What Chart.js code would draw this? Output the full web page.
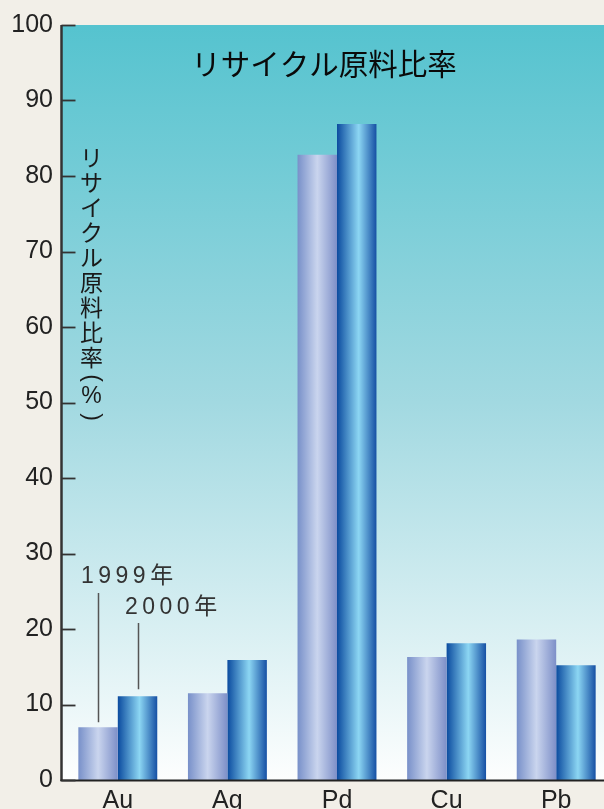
<!DOCTYPE html>
<html>
<head>
<meta charset="utf-8">
<script src="https://cdn.jsdelivr.net/npm/chart.js@4.4.0/dist/chart.umd.min.js"></script>
<style>
html,body{margin:0;padding:0;background:#f2efe8;overflow:hidden;}
#wrap{width:604px;height:809px;overflow:hidden;}
canvas{display:block;}
</style>
</head>
<body>
<div id="wrap"><canvas id="c" width="611" height="809"></canvas></div>
<script>
const categories = ['Au', 'Ag', 'Pd', 'Cu', 'Pb'];
const seriesNames = ['1999年', '2000年'];
const values1999 = [7.0, 11.5, 82.8, 16.3, 18.6];
const values2000 = [11.1, 15.9, 86.9, 18.1, 15.2];
const yTicks = [0, 10, 20, 30, 40, 50, 60, 70, 80, 90, 100];
const chartTitle = 'リサイクル原料比率';
const yTitleChars = ['リ','サ','イ','ク','ル','原','料','比','率'];
const yTitleUnit = ['(', '%', ')'];

const CAT_PCT = 0.72;

function barGradient(chart, dsIndex, dataIndex, stops) {
  const xs = chart.scales.x;
  if (!xs || !chart.chartArea) return stops[1][1];
  const catW = xs.width / categories.length;
  const center = xs.getPixelForValue(dataIndex);
  const bw = catW * CAT_PCT / 2;
  const left = dsIndex === 0 ? center - bw : center;
  const g = chart.ctx.createLinearGradient(left, 0, left + bw, 0);
  stops.forEach(s => g.addColorStop(s[0], s[1]));
  return g;
}
const stops1999 = [[0,'#7890c9'],[0.5,'#cad5ee'],[1,'#7d8fc8']];
const stops2000 = [[0,'#0b4b9f'],[0.55,'#8cd6f3'],[1,'#1650a4']];

const decor = {
  id: 'decor',
  beforeDraw(chart) {
    const {ctx, chartArea: a} = chart;
    ctx.save();
    ctx.fillStyle = '#f2efe8';
    ctx.fillRect(0, 0, chart.width, chart.height);
    const g = ctx.createLinearGradient(0, a.top, 0, a.bottom);
    g.addColorStop(0, '#55c3cf');
    g.addColorStop(0.5, '#a2d9e1');
    g.addColorStop(1, '#fdfefe');
    ctx.fillStyle = g;
    ctx.fillRect(a.left - 1, a.top, a.right - a.left + 1, a.bottom - a.top);
    ctx.restore();
  },
  afterDatasetsDraw(chart) {
    const {ctx, chartArea: a, scales: {y}} = chart;
    ctx.save();
    const ax = a.left - 1.5;
    ctx.strokeStyle = '#333';
    ctx.lineWidth = 2.5;
    ctx.beginPath();
    ctx.moveTo(ax, a.top);
    ctx.lineTo(ax, a.bottom + 1);
    ctx.stroke();
    ctx.strokeStyle = '#222';
    ctx.lineWidth = 2;
    ctx.beginPath();
    ctx.moveTo(ax - 1, a.bottom + 0.5);
    ctx.lineTo(chart.width, a.bottom + 0.5);
    ctx.stroke();
    ctx.strokeStyle = '#333';
    ctx.lineWidth = 1.8;
    yTicks.forEach(v => {
      const py = Math.round(y.getPixelForValue(v)) + 0.5;
      ctx.beginPath();
      ctx.moveTo(ax, py);
      ctx.lineTo(ax + 14, py);
      ctx.stroke();
    });
    // title
    ctx.fillStyle = '#0a0a0a';
    ctx.font = "29.5px 'Noto Sans CJK JP'";
    ctx.textAlign = 'center';
    ctx.textBaseline = 'middle';
    ctx.fillText(chartTitle, 324, 64);
    // vertical y title
    ctx.fillStyle = '#1a1a1a';
    ctx.font = "23px 'Noto Sans CJK JP'";
    yTitleChars.forEach((ch, i) => {
      ctx.fillText(ch, 91.5, 157 + i * 25);
    });
    ctx.font = "23px 'Liberation Sans'";
    [[yTitleUnit[0], 378, true], [yTitleUnit[1], 397, false], [yTitleUnit[2], 417, true]].forEach(([ch, cy, rot]) => {
      ctx.save();
      ctx.translate(91.5, cy);
      if (rot) ctx.rotate(Math.PI / 2);
      ctx.fillText(ch, 0, 0);
      ctx.restore();
    });
    // series annotations
    ctx.fillStyle = '#333';
    ctx.font = "23px 'Liberation Sans', 'Noto Sans CJK JP'";
    ctx.textAlign = 'left';
    ctx.letterSpacing = '4.5px';
    ctx.fillText(seriesNames[0], 81, 577);
    ctx.fillText(seriesNames[1], 125, 608);
    ctx.letterSpacing = '0px';
    const b0 = chart.getDatasetMeta(0).data[0];
    const b1 = chart.getDatasetMeta(1).data[0];
    ctx.strokeStyle = '#555';
    ctx.lineWidth = 1.5;
    ctx.beginPath();
    ctx.moveTo(Math.round(b0.x) + 0.5, 593);
    ctx.lineTo(Math.round(b0.x) + 0.5, b0.y - 5);
    ctx.moveTo(Math.round(b1.x) + 0.5, 623);
    ctx.lineTo(Math.round(b1.x) + 0.5, b1.y - 7);
    ctx.stroke();
    ctx.restore();
  }
};

new Chart(document.getElementById('c'), {
  type: 'bar',
  data: {
    labels: categories,
    datasets: [
      {
        label: seriesNames[0],
        data: values1999,
        backgroundColor: (c) => barGradient(c.chart, 0, c.dataIndex, stops1999),
        borderWidth: 0,
        categoryPercentage: CAT_PCT,
        barPercentage: 1.0
      },
      {
        label: seriesNames[1],
        data: values2000,
        backgroundColor: (c) => barGradient(c.chart, 1, c.dataIndex, stops2000),
        borderWidth: 0,
        categoryPercentage: CAT_PCT,
        barPercentage: 1.0
      }
    ]
  },
  options: {
    responsive: false,
    animation: false,
    devicePixelRatio: 1,
    layout: { padding: { top: 23, left: 0, right: 0, bottom: 0 } },
    plugins: { legend: { display: false }, title: { display: false }, tooltip: { enabled: false } },
    scales: {
      x: {
        grid: { display: false, drawTicks: false },
        border: { display: false },
        ticks: { color: '#222', font: { family: "'Liberation Sans'", size: 25 }, padding: 6 },
        afterFit(s) { s.height = 29; }
      },
      y: {
        min: 0, max: 100,
        afterBuildTicks(s) { s.ticks = yTicks.map(v => ({ value: v })); },
        grid: { display: false, drawTicks: false },
        border: { display: false },
        ticks: { color: '#222', font: { family: "'Liberation Sans'", size: 25 }, padding: 10 },
        afterFit(s) { s.width = 63; }
      }
    }
  },
  plugins: [decor]
});
</script>
</body>
</html>
